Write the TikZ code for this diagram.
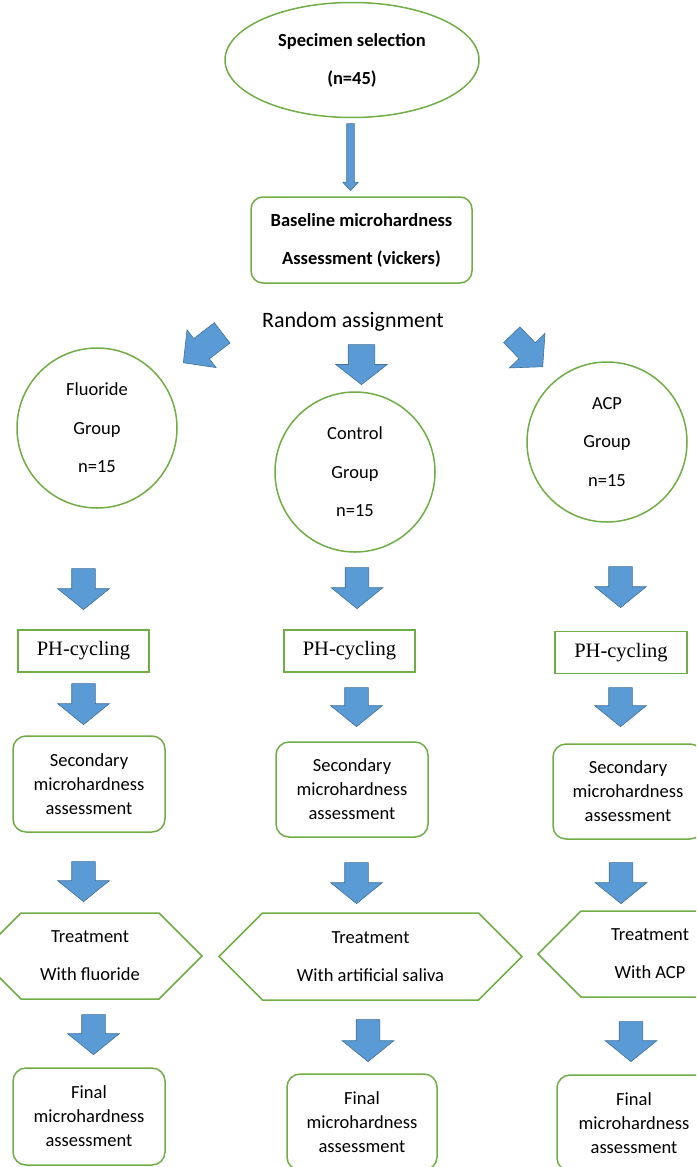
\documentclass[tikz,border=0pt]{standalone}
\usepackage{fontspec}
\setmainfont{Carlito}
\newfontfamily\phfont{Liberation Serif}
\usetikzlibrary{shapes.geometric,shapes.arrows,shapes.symbols}
\definecolor{boxgreen}{RGB}{112,173,71}
\definecolor{arrowblue}{RGB}{91,155,213}
\definecolor{arrowedge}{RGB}{65,113,156}
\tikzset{
  every node/.style={font=\fontsize{18.5}{24}\selectfont, align=center},
  grn/.style={draw=boxgreen, line width=1.5pt},
  roundbox/.style={grn, rectangle, rounded corners=13pt, minimum width=152pt, minimum height=96pt, inner sep=0pt},
  phbox/.style={grn, rectangle, minimum width=131pt, minimum height=42pt, inner sep=0pt, font=\phfont\fontsize{20.5}{24}\selectfont},
  grpcirc/.style={grn, circle, minimum size=160pt, inner sep=0pt, font=\fontsize{18.5}{38.5}\selectfont},
  hexa/.style={grn, signal, signal to=east and west, signal pointer angle=90, inner sep=0pt, font=\fontsize{18.5}{38}\selectfont},
  blk/.style={single arrow, draw=arrowedge, fill=arrowblue, line width=0.6pt, inner xsep=0pt, inner ysep=11.5pt,
    minimum height=41pt, single arrow head extend=14pt, single arrow tip angle=102,
    anchor=tip, rotate=-90},
}

\begin{document}
\begin{tikzpicture}[x=1pt, y=-1pt]
    \useasboundingbox (0,0) rectangle (696,1167);
    \clip (0,0) rectangle (696,1167);

    \node[grn, ellipse, minimum width=254pt, minimum height=115pt, font=\bfseries\fontsize{18.5}{38}\selectfont] (spec) at (352, 60) {Specimen selection\\(n=45)};
    \node[blk, minimum height=67pt, inner ysep=3.5pt, single arrow head extend=4pt, single arrow tip angle=86] (a0) at (350.5, 191) {};
    \node[grn, rectangle, rounded corners=12pt, minimum width=221pt, minimum height=86pt, font=\bfseries\fontsize{18.5}{38}\selectfont] (base) at (361.5, 240) {Baseline microhardness\\Assessment (vickers)};
    \node[font=\fontsize{22}{26}\selectfont] (rand) at (353, 322) {Random assignment};

    \node[blk, rotate=-52.4, minimum height=49pt, inner ysep=12.5pt, single arrow head extend=11pt, single arrow tip angle=92] (rl) at (183, 363) {};
    \node[blk, minimum height=40pt, inner ysep=13pt, single arrow head extend=12.5pt, single arrow tip angle=104] (rc) at (361.5, 385) {};
    \node[blk, rotate=44.1, minimum height=44.5pt, inner ysep=11pt, single arrow head extend=13.5pt, single arrow tip angle=96] (rr) at (543, 367) {};

    \node[grpcirc] (fl) at (97, 428) {Fluoride\\Group\\n=15};
    \node[grpcirc] (ct) at (355, 472) {Control\\Group\\n=15};
    \node[grpcirc] (acp) at (607, 442) {ACP\\Group\\n=15};

    \node[blk] (fa1) at (83.5, 610) {};
    \node[blk] (ca1) at (357, 609) {};
    \node[blk] (aa1) at (620.5, 608) {};

    \node[phbox] (fph) at (83.5, 651) {PH-cycling};
    \node[phbox] (cph) at (349.5, 651) {PH-cycling};
    \node[phbox, minimum width=132pt] (aph) at (621, 652.5) {PH-cycling};

    \node[blk] (fa2) at (83.5, 725) {};
    \node[blk, minimum height=39pt] (ca2) at (356.5, 727) {};
    \node[blk, minimum height=39pt] (aa2) at (620.5, 727) {};

    \node[roundbox] (fsec) at (89, 784) {Secondary\\microhardness\\assessment};
    \node[roundbox, minimum height=95pt] (csec) at (352, 789.5) {Secondary\\microhardness\\assessment};
    \node[roundbox, minimum width=150pt, minimum height=95pt] (asec) at (628, 791.5) {Secondary\\microhardness\\assessment};

    \node[blk, minimum height=40pt] (fa3) at (83.5, 902) {};
    \node[blk, minimum height=41pt] (ca3) at (356.5, 904) {};
    \node[blk, minimum height=41pt] (aa3) at (621, 904) {};

    \node[hexa, minimum width=224pt, minimum height=86pt] (ftr) at (90, 956) {Treatment\\With fluoride};
    \node[hexa, minimum width=303pt, minimum height=87pt] (ctr) at (370.5, 956.5) {Treatment\\With artificial saliva};
    \node[hexa, minimum width=224pt, minimum height=86pt] (atr) at (650, 954) {Treatment\\With ACP};

    \node[blk, minimum height=40pt] (fa4) at (93.5, 1055) {};
    \node[blk, minimum height=42pt] (ca4) at (368, 1062) {};
    \node[blk, minimum height=40pt] (aa4) at (631, 1062) {};

    \node[roundbox, minimum height=97pt] (ffin) at (89, 1116.5) {Final\\microhardness\\assessment};
    \node[roundbox, minimum width=150pt] (cfin) at (362, 1122) {Final\\microhardness\\assessment};
    \node[roundbox, minimum width=154pt] (afin) at (634, 1123) {Final\\microhardness\\assessment};
\end{tikzpicture}
\end{document}
